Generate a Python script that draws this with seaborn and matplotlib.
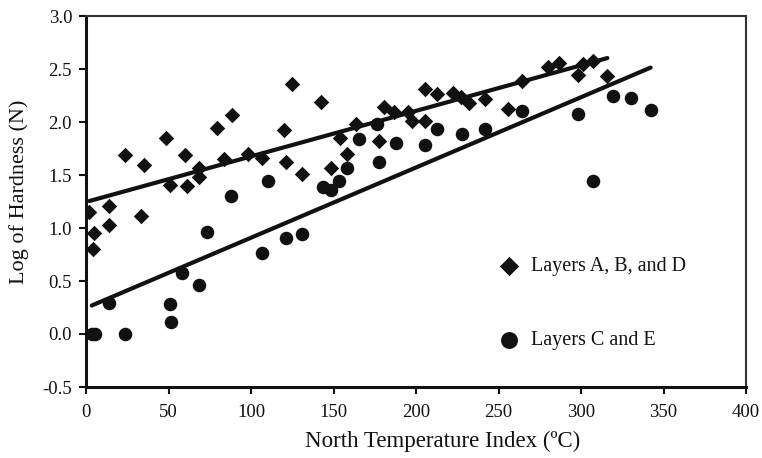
import numpy as np
import pandas as pd
import matplotlib
matplotlib.use("Agg")
import matplotlib.pyplot as plt
import seaborn as sns

# --- data ---
abd_x = [2, 4, 5, 14, 14, 23.6, 33.3, 35.3, 48.5, 50.9, 60, 61, 68.5, 68.5, 79.6, 83.6,
         88.3, 98, 106.5, 120.2, 121, 125, 131.1, 142.4, 148.3, 153.9, 158, 163.4, 177.6,
         180.4, 186.7, 195.4, 197.8, 205.5, 205.5, 212.9, 222.6, 227.1, 232.1, 241.8, 256,
         264, 279.8, 286.9, 298, 301.4, 307.5, 316]
abd_y = [1.15, 0.80, 0.95, 1.03, 1.21, 1.69, 1.11, 1.59, 1.85, 1.41, 1.69, 1.40, 1.57, 1.48,
         1.94, 1.65, 2.07, 1.70, 1.66, 1.92, 1.62, 2.36, 1.51, 2.19, 1.57, 1.85, 1.70, 1.98,
         1.82, 2.14, 2.09, 2.09, 2.01, 2.01, 2.31, 2.26, 2.27, 2.24, 2.18, 2.22, 2.12, 2.39,
         2.52, 2.56, 2.44, 2.55, 2.58, 2.43]

ce_x = [3.5, 5.5, 14, 23.6, 50.9, 51.3, 58.4, 68.5, 73.6, 87.9, 106.5, 110.1, 121, 131.1,
        143.8, 148.5, 153.3, 158, 165.7, 176.2, 177.6, 187.9, 205.5, 212.9, 227.7, 241.8,
        264.4, 298, 307.5, 319.6, 330.1, 342.2]
ce_y = [0.0, 0.0, 0.29, 0.0, 0.28, 0.11, 0.58, 0.46, 0.96, 1.30, 0.76, 1.44, 0.91, 0.94,
        1.39, 1.36, 1.44, 1.57, 1.84, 1.98, 1.62, 1.80, 1.78, 1.93, 1.89, 1.93, 2.10, 2.08,
        1.44, 2.25, 2.23, 2.11]

labels = ["Layers A, B, and D", "Layers C and E"]
x_ticks = [0, 50, 100, 150, 200, 250, 300, 350, 400]
y_ticks = [-0.5, 0.0, 0.5, 1.0, 1.5, 2.0, 2.5, 3.0]

sns.set_style("ticks")
plt.rcParams['font.family'] = ['Liberation Serif', 'DejaVu Serif']

INK = "#111111"
fig = plt.figure(figsize=(7.62, 4.58), dpi=100)
ax = fig.add_axes([86/762, 1-387/458, 660/762, 371/458])

df_abd = pd.DataFrame({"x": abd_x, "y": abd_y})
df_ce = pd.DataFrame({"x": ce_x, "y": ce_y})

sns.regplot(data=df_abd, x="x", y="y", ax=ax, ci=None, marker="D", color=INK,
            scatter_kws={"s": 62, "linewidths": 0, "alpha": 1},
            line_kws={"lw": 3.0, "color": INK}, label=labels[0])
sns.regplot(data=df_ce, x="x", y="y", ax=ax, ci=None, marker="o", color=INK,
            scatter_kws={"s": 95, "linewidths": 0, "alpha": 1},
            line_kws={"lw": 3.0, "color": INK}, label=labels[1])

ax.set_xlim(0, 400)
ax.set_ylim(-0.5, 3.0)
ax.set_xticks(x_ticks)
ax.set_yticks(y_ticks)
ax.set_xticklabels([str(t) for t in x_ticks])
ax.set_yticklabels([f"{t:.1f}" for t in y_ticks])
ax.tick_params(axis="both", labelsize=13.5, length=5, width=1.5, color=INK,
               labelcolor=INK)
ax.tick_params(axis="y", pad=5)
ax.tick_params(axis="x", pad=7)

for s in ["left", "bottom"]:
    ax.spines[s].set_linewidth(2.2)
    ax.spines[s].set_color(INK)
for s in ["top", "right"]:
    ax.spines[s].set_visible(True)
    ax.spines[s].set_linewidth(1.5)
    ax.spines[s].set_color("#333333")

ax.set_xlabel("North Temperature Index (ºC)", fontsize=16.5, color=INK)
ax.set_ylabel("Log of Hardness (N)", fontsize=16, color=INK)
ax.xaxis.set_label_coords(0.54, -0.118)
ax.yaxis.set_label_coords(-0.086, 0.525)

handles = [ax.collections[0], ax.collections[1]]
leg = ax.legend(handles, labels, loc="upper left", bbox_to_anchor=(0.595, 0.40),
                frameon=False, fontsize=14.5, labelspacing=2.75, markerscale=1.25,
                handletextpad=0.5, handlelength=1.2)
for t in leg.get_texts():
    t.set_color(INK)

fig.savefig("out.png", dpi=100)
